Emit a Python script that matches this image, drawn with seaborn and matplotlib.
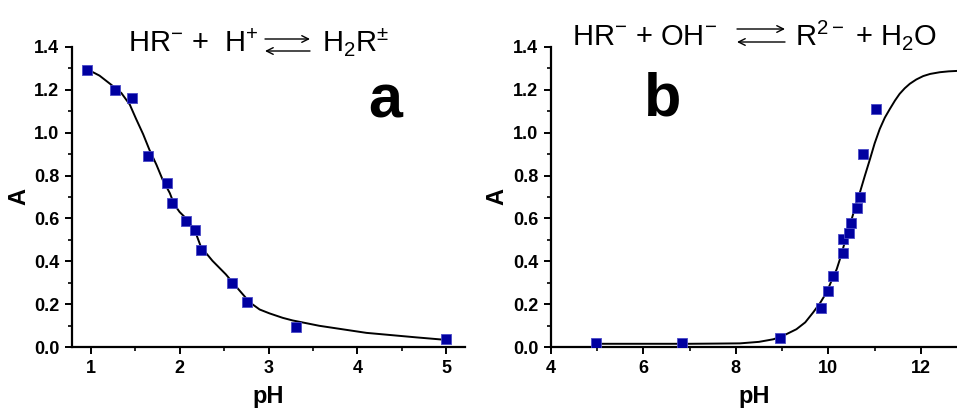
import numpy as np
import pandas as pd
import matplotlib
matplotlib.use('Agg')
import matplotlib.pyplot as plt
import seaborn as sns
from matplotlib.ticker import MultipleLocator, FormatStrFormatter
from matplotlib.patches import FancyArrowPatch

sns.set_theme(style="ticks")
plt.rcParams['font.family'] = ['Liberation Sans', 'DejaVu Sans']
plt.rcParams['mathtext.fontset'] = 'custom'
plt.rcParams['mathtext.rm'] = 'Liberation Sans'
plt.rcParams['mathtext.it'] = 'Liberation Sans'
for k in ['text.color', 'axes.labelcolor', 'xtick.color', 'ytick.color', 'axes.edgecolor']:
    plt.rcParams[k] = 'black'

# panel a: acid side, measured points
ph_a = [0.96, 1.27, 1.47, 1.65, 1.86, 1.92, 2.07, 2.17, 2.24, 2.59, 2.76, 3.31, 4.99]
abs_a = [1.29, 1.20, 1.16, 0.89, 0.765, 0.67, 0.59, 0.548, 0.452, 0.298, 0.209, 0.092, 0.036]
# panel a: fitted curve
fit_ph_a = [0.97, 1.10, 1.23, 1.345, 1.44, 1.51, 1.59, 1.66, 1.74, 1.81, 1.89, 1.94, 2.0,
            2.08, 2.17, 2.24, 2.37, 2.52, 2.65, 2.75, 2.82, 2.90, 3.01, 3.16, 3.27, 3.57,
            4.10, 4.66, 5.0]
fit_abs_a = [1.294, 1.266, 1.224, 1.185, 1.131, 1.065, 0.993, 0.921, 0.85, 0.78, 0.718, 0.665, 0.63,
             0.597, 0.545, 0.467, 0.402, 0.339, 0.275, 0.227, 0.199, 0.175, 0.157, 0.136, 0.124, 0.099,
             0.066, 0.045, 0.033]

# panel b: base side, measured points
ph_b = [4.97, 6.84, 8.95, 9.85, 10.0, 10.09, 10.32, 10.31, 10.44, 10.49, 10.61, 10.68, 10.75, 11.02]
abs_b = [0.018, 0.019, 0.042, 0.181, 0.26, 0.332, 0.437, 0.503, 0.534, 0.58, 0.648, 0.698, 0.902, 1.111]
# panel b: fitted curve
fit_ph_b = [4.97, 6.0, 7.0, 7.6, 8.09, 8.5, 8.81, 9.0, 9.31, 9.5, 9.67, 9.82, 9.96, 10.07,
            10.18, 10.25, 10.35, 10.46, 10.57, 10.68, 10.79, 10.90, 11.0, 11.11, 11.22, 11.33,
            11.44, 11.54, 11.65, 11.76, 11.9, 12.05, 12.2, 12.41, 12.6, 12.78]
fit_abs_b = [0.015, 0.015, 0.015, 0.016, 0.017, 0.024, 0.036, 0.05, 0.083, 0.115, 0.161, 0.205, 0.254, 0.31,
             0.363, 0.41, 0.485, 0.565, 0.645, 0.72, 0.8, 0.877, 0.95, 1.017, 1.07, 1.111,
             1.15, 1.181, 1.207, 1.228, 1.248, 1.264, 1.274, 1.282, 1.286, 1.288]

pts_a = pd.DataFrame({'pH': ph_a, 'A': abs_a})
fit_a = pd.DataFrame({'pH': fit_ph_a, 'A': fit_abs_a})
pts_b = pd.DataFrame({'pH': ph_b, 'A': abs_b})
fit_b = pd.DataFrame({'pH': fit_ph_b, 'A': fit_abs_b})

fig = plt.figure(figsize=(9.57, 4.08), dpi=100)
ax1 = fig.add_axes([0.0752, 0.1495, 0.4108, 0.7355])
ax2 = fig.add_axes([0.5755, 0.1495, 0.4245, 0.7355])

navy = '#0000a0'
for ax, pts, fit in [(ax1, pts_a, fit_a), (ax2, pts_b, fit_b)]:
    sns.lineplot(data=fit, x='pH', y='A', ax=ax, color='black', lw=1.4,
                 sort=False, estimator=None, zorder=2)
    sns.scatterplot(data=pts, x='pH', y='A', ax=ax, marker='s', s=62, color=navy,
                    edgecolor='#4a4ac8', linewidth=0.6, zorder=3)
    ax.set_ylim(0, 1.4)
    ax.yaxis.set_major_locator(MultipleLocator(0.2))
    ax.yaxis.set_minor_locator(MultipleLocator(0.1))
    ax.yaxis.set_major_formatter(FormatStrFormatter('%.1f'))
    for s in ['top', 'right']:
        ax.spines[s].set_visible(False)
    for s in ['left', 'bottom']:
        ax.spines[s].set_linewidth(1.6)
    ax.tick_params(which='major', length=5, width=1.4, direction='out', labelsize=13, pad=4)
    ax.tick_params(which='minor', length=3, width=1.2, direction='out')
    ax.set_xlabel('pH', fontsize=17, fontweight='bold', labelpad=6)
    ax.set_ylabel('A', fontsize=17, fontweight='bold', labelpad=3)

ax1.set_xlim(0.79, 5.21)
ax1.xaxis.set_major_locator(MultipleLocator(1))
ax1.xaxis.set_minor_locator(MultipleLocator(0.5))
ax2.set_xlim(4, 12.78)
ax2.xaxis.set_major_locator(MultipleLocator(2))
ax2.xaxis.set_minor_locator(MultipleLocator(1))
for ax in (ax1, ax2):
    for lab in ax.get_xticklabels() + ax.get_yticklabels():
        lab.set_fontweight('bold')

# panel letters
fig.text(0.403, 0.711, 'a', fontsize=44, fontweight='bold', ha='center', va='baseline')
fig.text(0.692, 0.718, 'b', fontsize=44, fontweight='bold', ha='center', va='baseline')

# equations
fs = 21
fig.text(128 / 957, 1 - 52 / 408, r'HR$^{-}$ +  H$^{+}$', fontsize=fs, ha='left', va='baseline')
fig.text(322 / 957, 1 - 52 / 408, r'H$_{2}$R$^{\pm}$', fontsize=fs, ha='left', va='baseline')
fig.text(572 / 957, 1 - 45 / 408, r'HR$^{-}$ + OH$^{-}$', fontsize=fs, ha='left', va='baseline')
fig.text(795 / 957, 1 - 45 / 408, r'R$^{2-}$ + H$_{2}$O', fontsize=fs, ha='left', va='baseline')

arrow = dict(arrowstyle='->', lw=1.0, color='black', shrinkA=0, shrinkB=0,
             mutation_scale=12)

def eq_arrows(x0, x1, ytop, ybot):
    fig.add_artist(FancyArrowPatch((x0 / 957, 1 - ytop / 408), (x1 / 957, 1 - ytop / 408),
                                   transform=fig.transFigure, **arrow))
    fig.add_artist(FancyArrowPatch((x1 / 957, 1 - ybot / 408), (x0 / 957, 1 - ybot / 408),
                                   transform=fig.transFigure, **arrow))

eq_arrows(265, 310, 39, 51)
eq_arrows(737, 785, 29, 42)

fig.savefig('out.png', dpi=100)
